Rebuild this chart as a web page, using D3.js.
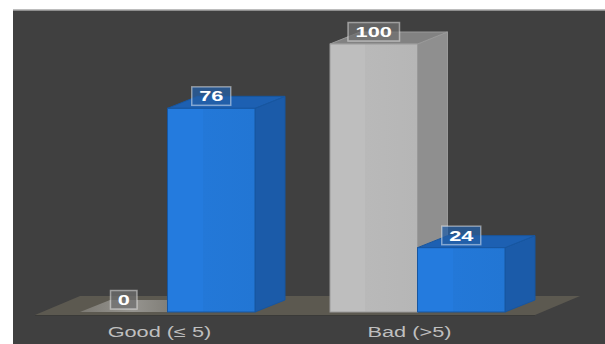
<!DOCTYPE html>
<html>
<head>
<meta charset="utf-8">
<script src="https://cdn.jsdelivr.net/npm/d3@7"></script>
<style>
  html, body { margin: 0; padding: 0; background: #ffffff; }
  svg { display: block; }
</style>
</head>
<body>
<svg id="chart" width="605" height="344"></svg>
<script>
// Chart data
const categories = ["Good (≤ 5)", "Bad (>5)"];
const seriesNames = ["All", "Selected"];
const allValues = [0, 100];
const selectedValues = [76, 24];

const seriesColors = {
  All:      { front: "#b9b9b9", side: "#8f8f8f", top: "#828282", edge: "#9a9a9a", box: "#6f6f6f" },
  Selected: { front: "#2378d8", side: "#1b5ba9", top: "#1d60b2", edge: "#1756a0", box: "#245fa6" }
};

const W = 605, H = 344;
const textStretch = 1.5; // wide lettering
const svg = d3.select("#chart");

// panel
svg.append("rect").attr("x", 13).attr("y", 9).attr("width", W - 13).attr("height", 1.5).attr("fill", "#bdbdbd");
svg.append("rect").attr("x", 13).attr("y", 10.5).attr("width", W - 13).attr("height", H - 10.5).attr("fill", "#404040");

// scales
const x = d3.scaleBand().domain(categories).range([42.5, 542.5]).paddingInner(0.3).paddingOuter(0.15);
const xs = d3.scaleBand().domain(seriesNames).range([0, x.bandwidth()]).padding(0);
const y = d3.scaleLinear().domain([0, 100]).range([312, 44]);

const depthX = 30, depthY = -12;

// floor
const floorFront = 315, floorBack = 296;
const fx0 = x.range()[0] - 7.5, fx1 = x.range()[1] - 7.5;
svg.append("polygon")
  .attr("points", [[fx0, floorFront], [fx1, floorFront], [fx1 + 45, floorBack], [fx0 + 45, floorBack]].map(p => p.join(",")).join(" "))
  .attr("fill", "#5c5950");
svg.append("line").attr("x1", fx0).attr("x2", fx1).attr("y1", floorFront + 0.5).attr("y2", floorFront + 0.5)
  .attr("stroke", "#3a3a38").attr("stroke-width", 1);

// gradients
const defs = svg.append("defs");
Object.entries(seriesColors).forEach(([name, c]) => {
  const g = defs.append("linearGradient").attr("id", "front-" + name).attr("x1", 0).attr("x2", 1).attr("y1", 0).attr("y2", 0);
  g.append("stop").attr("offset", "0%").attr("stop-color", d3.color(c.front).brighter(0.08));
  g.append("stop").attr("offset", "40%").attr("stop-color", d3.color(c.front).brighter(0.08));
  g.append("stop").attr("offset", "40.5%").attr("stop-color", c.front);
  g.append("stop").attr("offset", "100%").attr("stop-color", d3.color(c.front).darker(0.05));
});
const zg = defs.append("linearGradient").attr("id", "zero-fade").attr("x1", 0).attr("x2", 1);
zg.append("stop").attr("offset", "0%").attr("stop-color", "#dcdcdc").attr("stop-opacity", 0.25);
zg.append("stop").attr("offset", "45%").attr("stop-color", "#dcdcdc").attr("stop-opacity", 0.45);
zg.append("stop").attr("offset", "100%").attr("stop-color", "#dcdcdc").attr("stop-opacity", 0.15);

// assemble bars
const bars = [];
categories.forEach((cat, i) => {
  bars.push({ cat, series: "All", value: allValues[i] });
  bars.push({ cat, series: "Selected", value: selectedValues[i] });
});

const pts = a => a.map(p => p.join(",")).join(" ");
const gBars = svg.append("g");
bars.forEach(d => {
  const c = seriesColors[d.series];
  const x0 = x(d.cat) + xs(d.series), x1 = x0 + xs.bandwidth();
  const yTop = y(d.value), yBot = y(0);
  const g = gBars.append("g");
  if (d.value === 0) {
    // flat footprint for a zero value
    g.append("polygon")
      .attr("points", pts([[x0, yBot], [x1, yBot], [x1 + depthX, yBot + depthY], [x0 + depthX, yBot + depthY]]))
      .attr("fill", "url(#zero-fade)");
    return;
  }
  g.append("polygon")
    .attr("points", pts([[x1, yTop], [x1 + depthX, yTop + depthY], [x1 + depthX, yBot + depthY], [x1, yBot]]))
    .attr("fill", c.side).attr("stroke", c.edge).attr("stroke-width", 1);
  g.append("polygon")
    .attr("points", pts([[x0, yTop], [x1, yTop], [x1 + depthX, yTop + depthY], [x0 + depthX, yTop + depthY]]))
    .attr("fill", c.top).attr("stroke", c.edge).attr("stroke-width", 1);
  g.append("rect")
    .attr("x", x0).attr("y", yTop).attr("width", x1 - x0).attr("height", yBot - yTop)
    .attr("fill", `url(#front-${d.series})`).attr("stroke", c.edge).attr("stroke-width", 1);
});

// value labels
const gLabels = svg.append("g");
bars.forEach(d => {
  const c = seriesColors[d.series];
  const cx = x(d.cat) + xs(d.series) + xs.bandwidth() / 2;
  const yTop = y(d.value);
  const txt = String(d.value);
  const w = 14 + txt.length * 12.5, h = 18.5;
  const g = gLabels.append("g");
  g.append("rect")
    .attr("x", cx - w / 2).attr("y", yTop - 3 - h).attr("width", w).attr("height", h)
    .attr("fill", c.box).attr("fill-opacity", 0.75)
    .attr("stroke", "#ffffff").attr("stroke-opacity", 0.45).attr("stroke-width", 1.5);
  g.append("text")
    .attr("transform", `translate(${cx},${yTop - 3 - h / 2 + 5.2}) scale(${textStretch},1)`)
    .attr("text-anchor", "middle")
    .attr("font-family", "Liberation Sans, Arial, sans-serif")
    .attr("font-weight", "bold").attr("font-size", 14.5)
    .attr("fill", "#ffffff")
    .text(txt);
});

// category axis
const axis = svg.append("g")
  .attr("transform", "translate(-8, 324)")
  .call(d3.axisBottom(x).tickSize(0).tickPadding(3));
axis.select(".domain").remove();
axis.selectAll("text")
  .attr("transform", `scale(${textStretch},1)`)
  .attr("font-family", "Liberation Sans, Arial, sans-serif")
  .attr("font-size", 14.5)
  .attr("fill", "#bfbfbf");
</script>
</body>
</html>
